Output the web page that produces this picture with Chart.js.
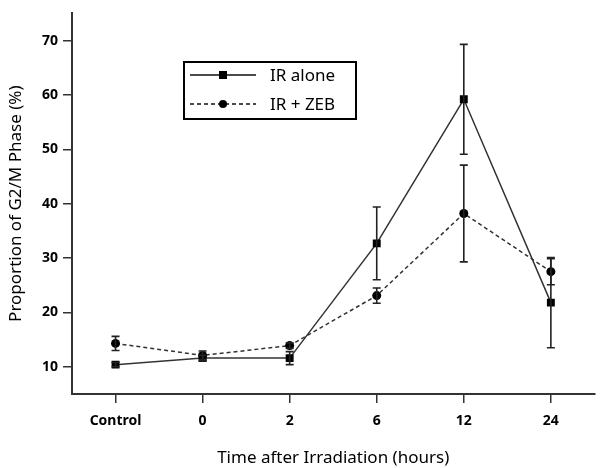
<!DOCTYPE html>
<html lang="en">
<head>
    <meta charset="UTF-8">
    <title>G2/M Phase</title>
    <style>
        body {
            margin: 0;
            padding: 0;
            background: white;
        }
        #wrap {
            width: 600px;
            height: 468px;
        }
    </style>
</head>
<body>
    <div id="wrap"><canvas id="chart" width="600" height="468"></canvas></div>

    <script src="https://cdn.jsdelivr.net/npm/chart.js"></script>
    <script>
        // data
        const categories = ["Control", "0", "2", "6", "12", "24"];
        const irAlone = [10.4, 11.6, 11.6, 32.7, 59.2, 21.8];
        const irAloneErr = [0.4, 0.5, 1.2, 6.7, 10.1, 8.3];
        const irZeb = [14.3, 12.1, 13.9, 23.1, 38.2, 27.5];
        const irZebErr = [1.3, 0.8, 0.5, 1.4, 8.9, 2.4];
        const yTicks = [10, 20, 30, 40, 50, 60, 70];

        const lineColor = "#333333";

        // error bars drawn through the chart's scales
        const errorBars = {
            id: "errorBars",
            afterDatasetsDraw(chart) {
                const ctx = chart.ctx;
                const x = chart.scales.x;
                const y = chart.scales.y;
                const errs = [irAloneErr, irZebErr];
                ctx.save();
                ctx.strokeStyle = "#222";
                ctx.lineWidth = 1.6;
                chart.data.datasets.forEach((ds, i) => {
                    ds.data.forEach((v, j) => {
                        const px = x.getPixelForValue(j);
                        const top = y.getPixelForValue(v + errs[i][j]);
                        const bot = y.getPixelForValue(v - errs[i][j]);
                        ctx.beginPath();
                        ctx.moveTo(px, top);
                        ctx.lineTo(px, bot);
                        ctx.moveTo(px - 4, top);
                        ctx.lineTo(px + 4, top);
                        ctx.moveTo(px - 4, bot);
                        ctx.lineTo(px + 4, bot);
                        ctx.stroke();
                    });
                });
                ctx.restore();
            }
        };

        // boxed legend inside the plot
        const boxLegend = {
            id: "boxLegend",
            afterDraw(chart) {
                const ctx = chart.ctx;
                ctx.save();
                ctx.strokeStyle = "#000";
                ctx.lineWidth = 2;
                ctx.strokeRect(184, 62, 172, 57);
                const rows = [
                    { y: 75, label: "IR alone", dash: [], square: true },
                    { y: 104, label: "IR + ZEB", dash: [4, 3], square: false }
                ];
                rows.forEach(r => {
                    ctx.strokeStyle = "#111";
                    ctx.lineWidth = 1.3;
                    ctx.setLineDash(r.dash);
                    ctx.beginPath();
                    ctx.moveTo(190, r.y);
                    ctx.lineTo(256, r.y);
                    ctx.stroke();
                    ctx.setLineDash([]);
                    ctx.fillStyle = "#000";
                    if (r.square) {
                        ctx.fillRect(219, r.y - 4, 8, 8);
                    } else {
                        ctx.beginPath();
                        ctx.arc(223, r.y, 4, 0, Math.PI * 2);
                        ctx.fill();
                    }
                    ctx.font = "17px 'Noto Sans', sans-serif";
                    ctx.textBaseline = "middle";
                    ctx.fillText(r.label, 270, r.y + 1);
                });
                ctx.restore();
            }
        };

        const ctx = document.getElementById("chart").getContext("2d");
        new Chart(ctx, {
            type: "line",
            data: {
                labels: categories,
                datasets: [{
                    label: "IR alone",
                    data: irAlone,
                    borderColor: lineColor,
                    borderWidth: 1.5,
                    pointStyle: "rect",
                    pointRadius: 5.6,
                    pointBackgroundColor: "#000",
                    pointBorderColor: "#000",
                    pointBorderWidth: 0,
                    tension: 0
                }, {
                    label: "IR + ZEB",
                    data: irZeb,
                    borderColor: lineColor,
                    borderWidth: 1.5,
                    borderDash: [4, 3],
                    pointStyle: "circle",
                    pointRadius: 4.5,
                    pointBackgroundColor: "#000",
                    pointBorderColor: "#000",
                    pointBorderWidth: 0,
                    tension: 0
                }]
            },
            options: {
                responsive: false,
                animation: false,
                layout: { padding: { top: 7, right: 4, left: 0, bottom: 0 } },
                plugins: {
                    legend: { display: false },
                    tooltip: { enabled: false }
                },
                scales: {
                    x: {
                        offset: true,
                        grid: {
                            drawOnChartArea: false,
                            drawTicks: true,
                            tickLength: 9,
                            color: "#333",
                            lineWidth: 1.5
                        },
                        border: { display: true, color: "#333", width: 2 },
                        ticks: {
                            color: "#000",
                            padding: 10,
                            font: { family: "'Noto Sans', sans-serif", size: 14, weight: "bold" }
                        },
                        title: {
                            display: true,
                            text: "Time after Irradiation (hours)",
                            color: "#000",
                            padding: { top: 10, bottom: 0 },
                            font: { family: "'Noto Sans', sans-serif", size: 17 }
                        },
                        afterFit(scale) { scale.height = 74; }
                    },
                    y: {
                        min: 5,
                        max: 75,
                        afterBuildTicks(scale) {
                            scale.ticks = yTicks.map(v => ({ value: v }));
                        },
                        grid: {
                            drawOnChartArea: false,
                            drawTicks: true,
                            tickLength: 9,
                            color: "#333",
                            lineWidth: 1.5
                        },
                        border: { display: true, color: "#333", width: 2 },
                        ticks: {
                            color: "#000",
                            padding: 5,
                            font: { family: "'Noto Sans', sans-serif", size: 14, weight: "bold" }
                        },
                        title: {
                            display: true,
                            text: "Proportion of G2/M Phase (%)",
                            color: "#000",
                            padding: { top: 6, bottom: 4 },
                            font: { family: "'Noto Sans', sans-serif", size: 17 }
                        },
                        afterFit(scale) { scale.width = 72; }
                    }
                }
            },
            plugins: [errorBars, boxLegend]
        });
    </script>
</body>
</html>
